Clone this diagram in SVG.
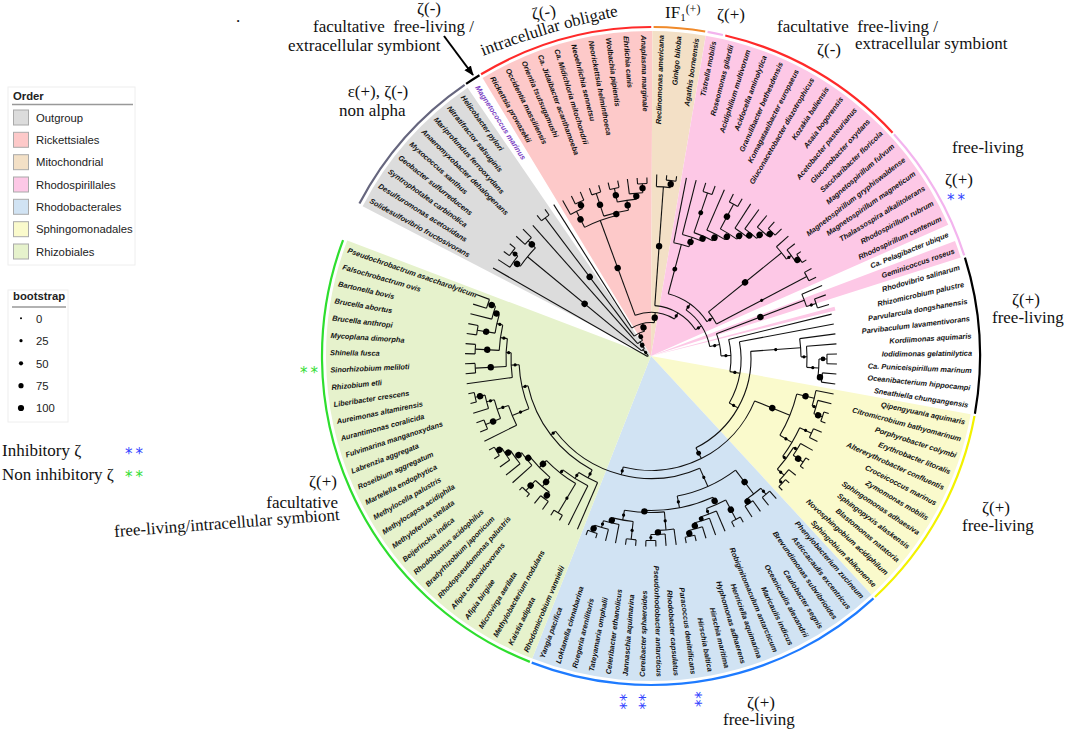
<svg xmlns="http://www.w3.org/2000/svg" width="1065" height="732" viewBox="0 0 1065 732">
<style>
.ann{font-family:"Liberation Serif","Times New Roman",serif;font-size:17px;fill:#111}
.lg{font-family:"Liberation Sans",Arial,sans-serif;font-size:11.3px;fill:#222}
.lgt{font-family:"Liberation Sans",Arial,sans-serif;font-size:11.3px;font-weight:bold;fill:#222}
.tl{font-family:"Liberation Sans",Arial,sans-serif;font-size:7.4px;font-weight:bold;font-style:italic;fill:#111}
.e{text-anchor:end}
.st{font-family:"DejaVu Sans",sans-serif;font-size:15px}
.sw{stroke:#aaa;stroke-width:1}
</style>
<defs>
<marker id="ah" viewBox="0 0 10 10" refX="9" refY="5" markerWidth="5" markerHeight="5" orient="auto"><path d="M0,1 L10,5 L0,9 z" fill="#000"/></marker>
<path id="ip" d="M483,56 Q556,28 624,15"/>
</defs>
<rect width="1065" height="732" fill="#fff"/>

<g id="ranges" transform="translate(651,356)" fill="none" stroke-width="325">
<circle r="162.5" pathLength="360" stroke="#dcdcdc" stroke-dasharray="28.19 999" transform="rotate(207.46)"/>
<circle r="162.5" pathLength="360" stroke="#fdc9c9" stroke-dasharray="31.46 999" transform="rotate(238.79)"/>
<circle r="162.5" pathLength="360" stroke="#f3e0c6" stroke-dasharray="9.45 999" transform="rotate(270.25)"/>
<circle r="162.5" pathLength="360" stroke="#fdc8e6" stroke-dasharray="56.46 999" transform="rotate(279.7)"/>
<circle r="162.5" pathLength="360" stroke="#fdc8e6" stroke-dasharray="3.11 999" transform="rotate(339.29)"/>
<circle r="95" stroke-width="190" pathLength="360" stroke="#fdc8e6" stroke-dasharray="1.2 999" transform="rotate(344.96)"/>
<circle r="162.5" pathLength="360" stroke="#fafacc" stroke-dasharray="36.93 999" transform="rotate(370.34)"/>
<circle r="162.5" pathLength="360" stroke="#d1e3f3" stroke-dasharray="64.15 999" transform="rotate(407.27)"/>
<circle r="162.5" pathLength="360" stroke="#e6f2cc" stroke-dasharray="89.39 999" transform="rotate(471.42)"/>
</g>

<g id="clade-arcs" transform="translate(651,356)" fill="none" stroke-width="2.2">
<circle r="329" pathLength="360" stroke="#66667e" stroke-dasharray="27.9 999" transform="rotate(207.6)"/>
<circle r="329" pathLength="360" stroke="#000" stroke-dasharray="2.8 999" transform="rotate(235.8)"/>
<circle r="329" pathLength="360" stroke="#ff2a2a" stroke-dasharray="31.15 999" transform="rotate(238.9)"/>
<circle r="329" pathLength="360" stroke="#f08a2a" stroke-dasharray="9.05 999" transform="rotate(270.45)"/>
<circle r="329" pathLength="360" stroke="#f3b4ee" stroke-dasharray="2.75 999" transform="rotate(279.9)"/>
<circle r="329" pathLength="360" stroke="#ff2a2a" stroke-dasharray="34.2 999" transform="rotate(283.05)"/>
<circle r="329" pathLength="360" stroke="#f3b4ee" stroke-dasharray="24.6 999" transform="rotate(317.6)"/>
<circle r="329" pathLength="360" stroke="#000" stroke-dasharray="27.5 999" transform="rotate(342.6)"/>
<circle r="329" pathLength="360" stroke="#f2f200" stroke-dasharray="36.6 999" transform="rotate(370.5)"/>
<circle r="329" pathLength="360" stroke="#1e7bff" stroke-dasharray="63.8 999" transform="rotate(407.45)"/>
<circle r="329" pathLength="360" stroke="#2ede2e" stroke-dasharray="89 999" transform="rotate(471.6)"/>
</g>

<g id="connectors" transform="translate(651,358.5)" fill="none" stroke="#111" stroke-width="1.1">
<circle r="4" pathLength="360" stroke-dasharray="18.23 999" transform="rotate(209.8)"/>
<circle r="12" pathLength="360" stroke-dasharray="17.09 999" transform="rotate(219.49)"/>
<circle r="160" pathLength="360" stroke-dasharray="8.53 999" transform="rotate(215.225)"/>
<circle r="168" pathLength="360" stroke-dasharray="4.65 999" transform="rotate(212.9)"/>
<circle r="175" pathLength="360" stroke-dasharray="3.1 999" transform="rotate(216)"/>
<circle r="170" pathLength="360" stroke-dasharray="3.1 999" transform="rotate(222.2)"/>
<circle r="20" pathLength="360" stroke-dasharray="16.36 999" transform="rotate(228.4)"/>
<circle r="28" pathLength="360" stroke-dasharray="23.41 999" transform="rotate(233.05)"/>
<circle r="176" pathLength="360" stroke-dasharray="3.1 999" transform="rotate(231.5)"/>
<circle r="36" pathLength="360" stroke-dasharray="37.52 999" transform="rotate(237.7)"/>
<circle r="46" pathLength="360" stroke-dasharray="50.83 999" transform="rotate(249.81)"/>
<circle r="147" pathLength="360" stroke-dasharray="13.37 999" transform="rotate(243.125)"/>
<circle r="165" pathLength="360" stroke-dasharray="4.65 999" transform="rotate(240.8)"/>
<circle r="172" pathLength="360" stroke-dasharray="3.1 999" transform="rotate(243.9)"/>
<circle r="150" pathLength="360" stroke-dasharray="9.69 999" transform="rotate(251.65)"/>
<circle r="174" pathLength="360" stroke-dasharray="3.1 999" transform="rotate(250.1)"/>
<circle r="160" pathLength="360" stroke-dasharray="6.98 999" transform="rotate(257.85)"/>
<circle r="174" pathLength="360" stroke-dasharray="3.1 999" transform="rotate(256.3)"/>
<circle r="166" pathLength="360" stroke-dasharray="4.65 999" transform="rotate(262.5)"/>
<circle r="175" pathLength="360" stroke-dasharray="3.1 999" transform="rotate(265.6)"/>
<circle r="53" pathLength="360" stroke-dasharray="53.02 999" transform="rotate(274.13)"/>
<circle r="172" pathLength="360" stroke-dasharray="4.65 999" transform="rotate(271.8)"/>
<circle r="179" pathLength="360" stroke-dasharray="3.1 999" transform="rotate(274.9)"/>
<circle r="60" pathLength="360" stroke-dasharray="42.74 999" transform="rotate(305.78)"/>
<circle r="67" pathLength="360" stroke-dasharray="41.71 999" transform="rotate(284.92)"/>
<circle r="118" pathLength="360" stroke-dasharray="7.64 999" transform="rotate(281.1)"/>
<circle r="128" pathLength="360" stroke-dasharray="9.08 999" transform="rotate(284.2)"/>
<circle r="133" pathLength="360" stroke-dasharray="8.86 999" transform="rotate(288.85)"/>
<circle r="175" pathLength="360" stroke-dasharray="3.1 999" transform="rotate(287.3)"/>
<circle r="140" pathLength="360" stroke-dasharray="8.43 999" transform="rotate(293.5)"/>
<circle r="147" pathLength="360" stroke-dasharray="7.56 999" transform="rotate(298.15)"/>
<circle r="175" pathLength="360" stroke-dasharray="3.1 999" transform="rotate(296.6)"/>
<circle r="155" pathLength="360" stroke-dasharray="5.81 999" transform="rotate(302.8)"/>
<circle r="160" pathLength="360" stroke-dasharray="5.43 999" transform="rotate(305.9)"/>
<circle r="169" pathLength="360" stroke-dasharray="4.65 999" transform="rotate(309)"/>
<circle r="175" pathLength="360" stroke-dasharray="3.1 999" transform="rotate(312.1)"/>
<circle r="74" pathLength="360" stroke-dasharray="11.24 999" transform="rotate(321.01)"/>
<circle r="168" pathLength="360" stroke-dasharray="5.43 999" transform="rotate(318.3)"/>
<circle r="174" pathLength="360" stroke-dasharray="4.65 999" transform="rotate(321.4)"/>
<circle r="179" pathLength="360" stroke-dasharray="3.1 999" transform="rotate(324.5)"/>
<circle r="176" pathLength="360" stroke-dasharray="3.1 999" transform="rotate(330.7)"/>
<circle r="70" pathLength="360" stroke-dasharray="18.59 999" transform="rotate(339.23)"/>
<circle r="164" pathLength="360" stroke-dasharray="4.65 999" transform="rotate(336.9)"/>
<circle r="174" pathLength="360" stroke-dasharray="3.1 999" transform="rotate(340)"/>
<circle r="80" pathLength="360" stroke-dasharray="23.24 999" transform="rotate(346.2)"/>
<circle r="90" pathLength="360" stroke-dasharray="40.29 999" transform="rotate(349.3)"/>
<circle r="100" pathLength="360" stroke-dasharray="67.4 999" transform="rotate(355.89)"/>
<circle r="150" pathLength="360" stroke-dasharray="6.98 999" transform="rotate(352.4)"/>
<circle r="156" pathLength="360" stroke-dasharray="7.75 999" transform="rotate(355.5)"/>
<circle r="168" pathLength="360" stroke-dasharray="6.2 999" transform="rotate(360.15)"/>
<circle r="176" pathLength="360" stroke-dasharray="3.1 999" transform="rotate(358.6)"/>
<circle r="172" pathLength="360" stroke-dasharray="3.1 999" transform="rotate(364.8)"/>
<circle r="112" pathLength="360" stroke-dasharray="82.11 999" transform="rotate(382.24)"/>
<circle r="150" pathLength="360" stroke-dasharray="17.05 999" transform="rotate(373.71)"/>
<circle r="168" pathLength="360" stroke-dasharray="5.43 999" transform="rotate(371)"/>
<circle r="172" pathLength="360" stroke-dasharray="4.65 999" transform="rotate(374.1)"/>
<circle r="181" pathLength="360" stroke-dasharray="3.1 999" transform="rotate(377.2)"/>
<circle r="164" pathLength="360" stroke-dasharray="11.63 999" transform="rotate(384.95)"/>
<circle r="177" pathLength="360" stroke-dasharray="3.1 999" transform="rotate(383.4)"/>
<circle r="168" pathLength="360" stroke-dasharray="9.3 999" transform="rotate(391.93)"/>
<circle r="172" pathLength="360" stroke-dasharray="4.65 999" transform="rotate(389.6)"/>
<circle r="184" pathLength="360" stroke-dasharray="3.1 999" transform="rotate(392.7)"/>
<circle r="177" pathLength="360" stroke-dasharray="4.65 999" transform="rotate(398.9)"/>
<circle r="181" pathLength="360" stroke-dasharray="3.1 999" transform="rotate(402)"/>
<circle r="120" pathLength="360" stroke-dasharray="76.63 999" transform="rotate(426.03)"/>
<circle r="140" pathLength="360" stroke-dasharray="26.35 999" transform="rotate(412.85)"/>
<circle r="170" pathLength="360" stroke-dasharray="6.2 999" transform="rotate(409.75)"/>
<circle r="178" pathLength="360" stroke-dasharray="3.1 999" transform="rotate(408.2)"/>
<circle r="175" pathLength="360" stroke-dasharray="3.1 999" transform="rotate(414.4)"/>
<circle r="152" pathLength="360" stroke-dasharray="26.54 999" transform="rotate(425.93)"/>
<circle r="160" pathLength="360" stroke-dasharray="7.56 999" transform="rotate(422.15)"/>
<circle r="182" pathLength="360" stroke-dasharray="3.1 999" transform="rotate(420.6)"/>
<circle r="166" pathLength="360" stroke-dasharray="5.81 999" transform="rotate(426.8)"/>
<circle r="170" pathLength="360" stroke-dasharray="5.43 999" transform="rotate(429.9)"/>
<circle r="176" pathLength="360" stroke-dasharray="4.65 999" transform="rotate(433)"/>
<circle r="182" pathLength="360" stroke-dasharray="3.1 999" transform="rotate(436.1)"/>
<circle r="154" pathLength="360" stroke-dasharray="14.92 999" transform="rotate(445.01)"/>
<circle r="172" pathLength="360" stroke-dasharray="5.43 999" transform="rotate(442.3)"/>
<circle r="176" pathLength="360" stroke-dasharray="4.65 999" transform="rotate(445.4)"/>
<circle r="182" pathLength="360" stroke-dasharray="3.1 999" transform="rotate(448.5)"/>
<circle r="164" pathLength="360" stroke-dasharray="7.36 999" transform="rotate(456.25)"/>
<circle r="182" pathLength="360" stroke-dasharray="3.1 999" transform="rotate(454.7)"/>
<circle r="169" pathLength="360" stroke-dasharray="5.43 999" transform="rotate(460.9)"/>
<circle r="176" pathLength="360" stroke-dasharray="4.65 999" transform="rotate(464)"/>
<circle r="183" pathLength="360" stroke-dasharray="3.1 999" transform="rotate(467.1)"/>
<circle r="126" pathLength="360" stroke-dasharray="49.64 999" transform="rotate(477.84)"/>
<circle r="135" pathLength="360" stroke-dasharray="9.08 999" transform="rotate(473.3)"/>
<circle r="142" pathLength="360" stroke-dasharray="11.96 999" transform="rotate(476.4)"/>
<circle r="146" pathLength="360" stroke-dasharray="14.63 999" transform="rotate(481.05)"/>
<circle r="180" pathLength="360" stroke-dasharray="3.1 999" transform="rotate(479.5)"/>
<circle r="156" pathLength="360" stroke-dasharray="10.66 999" transform="rotate(490.35)"/>
<circle r="168" pathLength="360" stroke-dasharray="6.2 999" transform="rotate(487.25)"/>
<circle r="176" pathLength="360" stroke-dasharray="3.1 999" transform="rotate(485.7)"/>
<circle r="182" pathLength="360" stroke-dasharray="3.1 999" transform="rotate(491.9)"/>
<circle r="160" pathLength="360" stroke-dasharray="5.81 999" transform="rotate(498.1)"/>
<circle r="168" pathLength="360" stroke-dasharray="5.43 999" transform="rotate(501.2)"/>
<circle r="174" pathLength="360" stroke-dasharray="4.65 999" transform="rotate(504.3)"/>
<circle r="180" pathLength="360" stroke-dasharray="3.1 999" transform="rotate(507.4)"/>
<circle r="132" pathLength="360" stroke-dasharray="19.62 999" transform="rotate(517.67)"/>
<circle r="150" pathLength="360" stroke-dasharray="8.14 999" transform="rotate(513.6)"/>
<circle r="162" pathLength="360" stroke-dasharray="6.98 999" transform="rotate(518.25)"/>
<circle r="178" pathLength="360" stroke-dasharray="3.1 999" transform="rotate(516.7)"/>
<circle r="170" pathLength="360" stroke-dasharray="4.65 999" transform="rotate(522.9)"/>
<circle r="180" pathLength="360" stroke-dasharray="3.1 999" transform="rotate(526)"/>
<circle r="140" pathLength="360" stroke-dasharray="10.17 999" transform="rotate(532.2)"/>
<circle r="145" pathLength="360" stroke-dasharray="11.04 999" transform="rotate(536.85)"/>
<circle r="176" pathLength="360" stroke-dasharray="3.1 999" transform="rotate(535.3)"/>
<circle r="152" pathLength="360" stroke-dasharray="9.69 999" transform="rotate(543.05)"/>
<circle r="176" pathLength="360" stroke-dasharray="3.1 999" transform="rotate(541.5)"/>
<circle r="158" pathLength="360" stroke-dasharray="6.98 999" transform="rotate(549.25)"/>
<circle r="176" pathLength="360" stroke-dasharray="3.1 999" transform="rotate(547.7)"/>
<circle r="164" pathLength="360" stroke-dasharray="4.65 999" transform="rotate(553.9)"/>
<circle r="172" pathLength="360" stroke-dasharray="3.1 999" transform="rotate(557)"/>
<line x1="4" x2="12" transform="rotate(228.03)"/>
<line x1="12" x2="160" transform="rotate(219.49)"/>
<line x1="160" x2="168" transform="rotate(215.23)"/>
<line x1="168" x2="175" transform="rotate(217.55)"/>
<line x1="160" x2="170" transform="rotate(223.75)"/>
<line x1="12" x2="20" transform="rotate(236.58)"/>
<line x1="20" x2="28" transform="rotate(244.76)"/>
<line x1="28" x2="176" transform="rotate(233.05)"/>
<line x1="28" x2="36" transform="rotate(256.46)"/>
<line x1="36" x2="46" transform="rotate(275.22)"/>
<line x1="46" x2="147" transform="rotate(249.81)"/>
<line x1="147" x2="165" transform="rotate(243.13)"/>
<line x1="165" x2="172" transform="rotate(245.45)"/>
<line x1="147" x2="150" transform="rotate(256.49)"/>
<line x1="150" x2="174" transform="rotate(251.65)"/>
<line x1="150" x2="160" transform="rotate(261.34)"/>
<line x1="160" x2="174" transform="rotate(257.85)"/>
<line x1="160" x2="166" transform="rotate(264.83)"/>
<line x1="166" x2="175" transform="rotate(267.15)"/>
<line x1="46" x2="53" transform="rotate(300.64)"/>
<line x1="53" x2="172" transform="rotate(274.13)"/>
<line x1="172" x2="179" transform="rotate(276.45)"/>
<line x1="53" x2="60" transform="rotate(327.15)"/>
<line x1="60" x2="67" transform="rotate(305.78)"/>
<line x1="67" x2="118" transform="rotate(284.92)"/>
<line x1="118" x2="128" transform="rotate(288.74)"/>
<line x1="128" x2="133" transform="rotate(293.28)"/>
<line x1="133" x2="175" transform="rotate(288.85)"/>
<line x1="133" x2="140" transform="rotate(297.71)"/>
<line x1="140" x2="147" transform="rotate(301.93)"/>
<line x1="147" x2="175" transform="rotate(298.15)"/>
<line x1="147" x2="155" transform="rotate(305.71)"/>
<line x1="155" x2="160" transform="rotate(308.61)"/>
<line x1="160" x2="169" transform="rotate(311.33)"/>
<line x1="169" x2="175" transform="rotate(313.65)"/>
<line x1="67" x2="74" transform="rotate(326.63)"/>
<line x1="74" x2="168" transform="rotate(321.01)"/>
<line x1="168" x2="174" transform="rotate(323.73)"/>
<line x1="174" x2="179" transform="rotate(326.05)"/>
<line x1="74" x2="176" transform="rotate(332.25)"/>
<line x1="60" x2="70" transform="rotate(348.52)"/>
<line x1="70" x2="164" transform="rotate(339.23)"/>
<line x1="164" x2="174" transform="rotate(341.55)"/>
<line x1="70" x2="80" transform="rotate(357.82)"/>
<line x1="80" x2="90" transform="rotate(369.44)"/>
<line x1="90" x2="100" transform="rotate(389.59)"/>
<line x1="100" x2="150" transform="rotate(355.89)"/>
<line x1="150" x2="156" transform="rotate(359.38)"/>
<line x1="156" x2="168" transform="rotate(363.25)"/>
<line x1="168" x2="176" transform="rotate(360.15)"/>
<line x1="168" x2="172" transform="rotate(366.35)"/>
<line x1="100" x2="112" transform="rotate(423.29)"/>
<line x1="112" x2="150" transform="rotate(382.24)"/>
<line x1="150" x2="168" transform="rotate(373.71)"/>
<line x1="168" x2="172" transform="rotate(376.43)"/>
<line x1="172" x2="181" transform="rotate(378.75)"/>
<line x1="150" x2="164" transform="rotate(390.76)"/>
<line x1="164" x2="177" transform="rotate(384.95)"/>
<line x1="164" x2="168" transform="rotate(396.58)"/>
<line x1="168" x2="172" transform="rotate(391.93)"/>
<line x1="172" x2="184" transform="rotate(394.25)"/>
<line x1="168" x2="177" transform="rotate(401.23)"/>
<line x1="177" x2="181" transform="rotate(403.55)"/>
<line x1="112" x2="120" transform="rotate(464.35)"/>
<line x1="120" x2="140" transform="rotate(426.03)"/>
<line x1="140" x2="170" transform="rotate(412.85)"/>
<line x1="170" x2="178" transform="rotate(409.75)"/>
<line x1="170" x2="175" transform="rotate(415.95)"/>
<line x1="140" x2="152" transform="rotate(439.2)"/>
<line x1="152" x2="160" transform="rotate(425.93)"/>
<line x1="160" x2="182" transform="rotate(422.15)"/>
<line x1="160" x2="166" transform="rotate(429.71)"/>
<line x1="166" x2="170" transform="rotate(432.61)"/>
<line x1="170" x2="176" transform="rotate(435.33)"/>
<line x1="176" x2="182" transform="rotate(437.65)"/>
<line x1="152" x2="154" transform="rotate(452.47)"/>
<line x1="154" x2="172" transform="rotate(445.01)"/>
<line x1="172" x2="176" transform="rotate(447.73)"/>
<line x1="176" x2="182" transform="rotate(450.05)"/>
<line x1="154" x2="164" transform="rotate(459.93)"/>
<line x1="164" x2="182" transform="rotate(456.25)"/>
<line x1="164" x2="169" transform="rotate(463.61)"/>
<line x1="169" x2="176" transform="rotate(466.33)"/>
<line x1="176" x2="183" transform="rotate(468.65)"/>
<line x1="120" x2="126" transform="rotate(502.66)"/>
<line x1="126" x2="135" transform="rotate(477.84)"/>
<line x1="135" x2="142" transform="rotate(482.38)"/>
<line x1="142" x2="146" transform="rotate(488.36)"/>
<line x1="146" x2="180" transform="rotate(481.05)"/>
<line x1="146" x2="156" transform="rotate(495.68)"/>
<line x1="156" x2="168" transform="rotate(490.35)"/>
<line x1="168" x2="176" transform="rotate(487.25)"/>
<line x1="168" x2="182" transform="rotate(493.45)"/>
<line x1="156" x2="160" transform="rotate(501.01)"/>
<line x1="160" x2="168" transform="rotate(503.91)"/>
<line x1="168" x2="174" transform="rotate(506.63)"/>
<line x1="174" x2="180" transform="rotate(508.95)"/>
<line x1="126" x2="132" transform="rotate(527.48)"/>
<line x1="132" x2="150" transform="rotate(517.67)"/>
<line x1="150" x2="162" transform="rotate(521.74)"/>
<line x1="162" x2="178" transform="rotate(518.25)"/>
<line x1="162" x2="170" transform="rotate(525.23)"/>
<line x1="170" x2="180" transform="rotate(527.55)"/>
<line x1="132" x2="140" transform="rotate(537.29)"/>
<line x1="140" x2="145" transform="rotate(542.37)"/>
<line x1="145" x2="176" transform="rotate(536.85)"/>
<line x1="145" x2="152" transform="rotate(547.89)"/>
<line x1="152" x2="176" transform="rotate(543.05)"/>
<line x1="152" x2="158" transform="rotate(552.74)"/>
<line x1="158" x2="176" transform="rotate(549.25)"/>
<line x1="158" x2="164" transform="rotate(556.23)"/>
<line x1="164" x2="172" transform="rotate(558.55)"/>
<line x1="4" x2="182" transform="rotate(209.8)"/>
<line x1="168" x2="182" transform="rotate(212.9)"/>
<line x1="175" x2="182" transform="rotate(216)"/>
<line x1="175" x2="182" transform="rotate(219.1)"/>
<line x1="170" x2="182" transform="rotate(222.2)"/>
<line x1="170" x2="182" transform="rotate(225.3)"/>
<line x1="20" x2="178" transform="rotate(228.4)"/>
<line x1="176" x2="183" transform="rotate(231.5)"/>
<line x1="176" x2="183" transform="rotate(234.6)"/>
<line x1="36" x2="182" transform="rotate(237.7)"/>
<line x1="165" x2="181" transform="rotate(240.8)"/>
<line x1="172" x2="181" transform="rotate(243.9)"/>
<line x1="172" x2="181" transform="rotate(247)"/>
<line x1="174" x2="181" transform="rotate(250.1)"/>
<line x1="174" x2="181" transform="rotate(253.2)"/>
<line x1="174" x2="181" transform="rotate(256.3)"/>
<line x1="174" x2="181" transform="rotate(259.4)"/>
<line x1="166" x2="181" transform="rotate(262.5)"/>
<line x1="175" x2="181" transform="rotate(265.6)"/>
<line x1="175" x2="181" transform="rotate(268.7)"/>
<line x1="172" x2="184" transform="rotate(271.8)"/>
<line x1="179" x2="184" transform="rotate(274.9)"/>
<line x1="179" x2="184" transform="rotate(278)"/>
<line x1="118" x2="184" transform="rotate(281.1)"/>
<line x1="128" x2="184" transform="rotate(284.2)"/>
<line x1="175" x2="184" transform="rotate(287.3)"/>
<line x1="175" x2="184" transform="rotate(290.4)"/>
<line x1="140" x2="184" transform="rotate(293.5)"/>
<line x1="175" x2="184" transform="rotate(296.6)"/>
<line x1="175" x2="184" transform="rotate(299.7)"/>
<line x1="155" x2="184" transform="rotate(302.8)"/>
<line x1="160" x2="184" transform="rotate(305.9)"/>
<line x1="169" x2="184" transform="rotate(309)"/>
<line x1="175" x2="184" transform="rotate(312.1)"/>
<line x1="175" x2="184" transform="rotate(315.2)"/>
<line x1="168" x2="184" transform="rotate(318.3)"/>
<line x1="174" x2="184" transform="rotate(321.4)"/>
<line x1="179" x2="184" transform="rotate(324.5)"/>
<line x1="179" x2="184" transform="rotate(327.6)"/>
<line x1="176" x2="184" transform="rotate(330.7)"/>
<line x1="176" x2="184" transform="rotate(333.8)"/>
<line x1="164" x2="186" transform="rotate(336.9)"/>
<line x1="174" x2="186" transform="rotate(340)"/>
<line x1="174" x2="186" transform="rotate(343.1)"/>
<line x1="80" x2="186" transform="rotate(346.2)"/>
<line x1="90" x2="186" transform="rotate(349.3)"/>
<line x1="150" x2="186" transform="rotate(352.4)"/>
<line x1="156" x2="186" transform="rotate(355.5)"/>
<line x1="176" x2="186" transform="rotate(358.6)"/>
<line x1="176" x2="186" transform="rotate(361.7)"/>
<line x1="172" x2="186" transform="rotate(364.8)"/>
<line x1="172" x2="186" transform="rotate(367.9)"/>
<line x1="168" x2="186" transform="rotate(371)"/>
<line x1="172" x2="186" transform="rotate(374.1)"/>
<line x1="181" x2="186" transform="rotate(377.2)"/>
<line x1="181" x2="186" transform="rotate(380.3)"/>
<line x1="177" x2="186" transform="rotate(383.4)"/>
<line x1="177" x2="186" transform="rotate(386.5)"/>
<line x1="172" x2="186" transform="rotate(389.6)"/>
<line x1="184" x2="188" transform="rotate(392.7)"/>
<line x1="184" x2="188" transform="rotate(395.8)"/>
<line x1="177" x2="186" transform="rotate(398.9)"/>
<line x1="181" x2="186" transform="rotate(402)"/>
<line x1="181" x2="186" transform="rotate(405.1)"/>
<line x1="178" x2="188" transform="rotate(408.2)"/>
<line x1="178" x2="188" transform="rotate(411.3)"/>
<line x1="175" x2="188" transform="rotate(414.4)"/>
<line x1="175" x2="188" transform="rotate(417.5)"/>
<line x1="182" x2="188" transform="rotate(420.6)"/>
<line x1="182" x2="188" transform="rotate(423.7)"/>
<line x1="166" x2="188" transform="rotate(426.8)"/>
<line x1="170" x2="188" transform="rotate(429.9)"/>
<line x1="176" x2="188" transform="rotate(433)"/>
<line x1="182" x2="188" transform="rotate(436.1)"/>
<line x1="182" x2="188" transform="rotate(439.2)"/>
<line x1="172" x2="188" transform="rotate(442.3)"/>
<line x1="176" x2="188" transform="rotate(445.4)"/>
<line x1="182" x2="188" transform="rotate(448.5)"/>
<line x1="182" x2="188" transform="rotate(451.6)"/>
<line x1="182" x2="188" transform="rotate(454.7)"/>
<line x1="182" x2="188" transform="rotate(457.8)"/>
<line x1="169" x2="188" transform="rotate(460.9)"/>
<line x1="176" x2="188" transform="rotate(464)"/>
<line x1="183" x2="188" transform="rotate(467.1)"/>
<line x1="183" x2="188" transform="rotate(470.2)"/>
<line x1="135" x2="186" transform="rotate(473.3)"/>
<line x1="142" x2="186" transform="rotate(476.4)"/>
<line x1="180" x2="186" transform="rotate(479.5)"/>
<line x1="180" x2="186" transform="rotate(482.6)"/>
<line x1="176" x2="186" transform="rotate(485.7)"/>
<line x1="176" x2="186" transform="rotate(488.8)"/>
<line x1="182" x2="186" transform="rotate(491.9)"/>
<line x1="182" x2="186" transform="rotate(495)"/>
<line x1="160" x2="186" transform="rotate(498.1)"/>
<line x1="168" x2="186" transform="rotate(501.2)"/>
<line x1="174" x2="186" transform="rotate(504.3)"/>
<line x1="180" x2="186" transform="rotate(507.4)"/>
<line x1="180" x2="186" transform="rotate(510.5)"/>
<line x1="150" x2="186" transform="rotate(513.6)"/>
<line x1="178" x2="186" transform="rotate(516.7)"/>
<line x1="178" x2="186" transform="rotate(519.8)"/>
<line x1="170" x2="186" transform="rotate(522.9)"/>
<line x1="180" x2="186" transform="rotate(526)"/>
<line x1="180" x2="186" transform="rotate(529.1)"/>
<line x1="140" x2="186" transform="rotate(532.2)"/>
<line x1="176" x2="186" transform="rotate(535.3)"/>
<line x1="176" x2="186" transform="rotate(538.4)"/>
<line x1="176" x2="186" transform="rotate(541.5)"/>
<line x1="176" x2="186" transform="rotate(544.6)"/>
<line x1="176" x2="186" transform="rotate(547.7)"/>
<line x1="176" x2="186" transform="rotate(550.8)"/>
<line x1="164" x2="186" transform="rotate(553.9)"/>
<line x1="172" x2="186" transform="rotate(557)"/>
<line x1="172" x2="186" transform="rotate(560.1)"/>
</g>

<g id="support" transform="translate(651,358.5)" fill="#000">
<circle cx="8" r="1.6" transform="rotate(228.03)"/>
<circle cx="86" r="3.2" transform="rotate(219.49)"/>
<circle cx="164" r="3.2" transform="rotate(215.23)"/>
<circle cx="171.5" r="2.4" transform="rotate(217.55)"/>
<circle cx="165" r="3.2" transform="rotate(223.75)"/>
<circle cx="16" r="2.4" transform="rotate(236.58)"/>
<circle cx="24" r="2.4" transform="rotate(244.76)"/>
<circle cx="102" r="3.2" transform="rotate(233.05)"/>
<circle cx="32" r="3.2" transform="rotate(256.46)"/>
<circle cx="41" r="3.2" transform="rotate(275.22)"/>
<circle cx="96.5" r="3.2" transform="rotate(249.81)"/>
<circle cx="156" r="3.2" transform="rotate(243.13)"/>
<circle cx="168.5" r="3.2" transform="rotate(245.45)"/>
<circle cx="148.5" r="3.2" transform="rotate(256.49)"/>
<circle cx="162" r="3.2" transform="rotate(251.65)"/>
<circle cx="155" r="3.2" transform="rotate(261.34)"/>
<circle cx="167" r="3.2" transform="rotate(257.85)"/>
<circle cx="163" r="3.2" transform="rotate(264.83)"/>
<circle cx="170.5" r="3.2" transform="rotate(267.15)"/>
<circle cx="49.5" r="1.6" transform="rotate(300.64)"/>
<circle cx="112.5" r="3.2" transform="rotate(274.13)"/>
<circle cx="175.5" r="3.2" transform="rotate(276.45)"/>
<circle cx="56.5" r="1.6" transform="rotate(327.15)"/>
<circle cx="63.5" r="1.6" transform="rotate(305.78)"/>
<circle cx="92.5" r="2.4" transform="rotate(284.92)"/>
<circle cx="123" r="3.2" transform="rotate(288.74)"/>
<circle cx="130.5" r="3.2" transform="rotate(293.28)"/>
<circle cx="154" r="2.4" transform="rotate(288.85)"/>
<circle cx="136.5" r="3.2" transform="rotate(297.71)"/>
<circle cx="143.5" r="3.2" transform="rotate(301.93)"/>
<circle cx="161" r="3.2" transform="rotate(298.15)"/>
<circle cx="151" r="3.2" transform="rotate(305.71)"/>
<circle cx="157.5" r="3.2" transform="rotate(308.61)"/>
<circle cx="164.5" r="3.2" transform="rotate(311.33)"/>
<circle cx="172" r="3.2" transform="rotate(313.65)"/>
<circle cx="70.5" r="1.6" transform="rotate(326.63)"/>
<circle cx="121" r="3.2" transform="rotate(321.01)"/>
<circle cx="171" r="1.6" transform="rotate(323.73)"/>
<circle cx="176.5" r="3.2" transform="rotate(326.05)"/>
<circle cx="125" r="1.6" transform="rotate(332.25)"/>
<circle cx="65" r="1.6" transform="rotate(348.52)"/>
<circle cx="117" r="3.2" transform="rotate(339.23)"/>
<circle cx="169" r="1.6" transform="rotate(341.55)"/>
<circle cx="75" r="1.6" transform="rotate(357.82)"/>
<circle cx="85" r="1.6" transform="rotate(369.44)"/>
<circle cx="95" r="1.6" transform="rotate(389.59)"/>
<circle cx="125" r="1.6" transform="rotate(355.89)"/>
<circle cx="153" r="1.6" transform="rotate(359.38)"/>
<circle cx="162" r="1.6" transform="rotate(363.25)"/>
<circle cx="172" r="2.4" transform="rotate(360.15)"/>
<circle cx="170" r="3.2" transform="rotate(366.35)"/>
<circle cx="106" r="2.4" transform="rotate(423.29)"/>
<circle cx="131" r="3.2" transform="rotate(382.24)"/>
<circle cx="159" r="3.2" transform="rotate(373.71)"/>
<circle cx="170" r="1.6" transform="rotate(376.43)"/>
<circle cx="176.5" r="3.2" transform="rotate(378.75)"/>
<circle cx="157" r="1.6" transform="rotate(390.76)"/>
<circle cx="170.5" r="1.6" transform="rotate(384.95)"/>
<circle cx="166" r="1.6" transform="rotate(396.58)"/>
<circle cx="170" r="1.6" transform="rotate(391.93)"/>
<circle cx="178" r="3.2" transform="rotate(394.25)"/>
<circle cx="172.5" r="1.6" transform="rotate(401.23)"/>
<circle cx="179" r="1.6" transform="rotate(403.55)"/>
<circle cx="116" r="1.6" transform="rotate(464.35)"/>
<circle cx="130" r="1.6" transform="rotate(426.03)"/>
<circle cx="155" r="3.2" transform="rotate(412.85)"/>
<circle cx="174" r="1.6" transform="rotate(409.75)"/>
<circle cx="172.5" r="3.2" transform="rotate(415.95)"/>
<circle cx="146" r="1.6" transform="rotate(439.2)"/>
<circle cx="156" r="3.2" transform="rotate(425.93)"/>
<circle cx="171" r="3.2" transform="rotate(422.15)"/>
<circle cx="163" r="1.6" transform="rotate(429.71)"/>
<circle cx="168" r="2.4" transform="rotate(432.61)"/>
<circle cx="173" r="3.2" transform="rotate(435.33)"/>
<circle cx="179" r="3.2" transform="rotate(437.65)"/>
<circle cx="153" r="3.2" transform="rotate(452.47)"/>
<circle cx="163" r="1.6" transform="rotate(445.01)"/>
<circle cx="174" r="3.2" transform="rotate(447.73)"/>
<circle cx="179" r="1.6" transform="rotate(450.05)"/>
<circle cx="159" r="1.6" transform="rotate(459.93)"/>
<circle cx="173" r="1.6" transform="rotate(456.25)"/>
<circle cx="166.5" r="3.2" transform="rotate(463.61)"/>
<circle cx="172.5" r="1.6" transform="rotate(466.33)"/>
<circle cx="179.5" r="3.2" transform="rotate(468.65)"/>
<circle cx="123" r="1.6" transform="rotate(502.66)"/>
<circle cx="130.5" r="1.6" transform="rotate(477.84)"/>
<circle cx="138.5" r="1.6" transform="rotate(482.38)"/>
<circle cx="144" r="1.6" transform="rotate(488.36)"/>
<circle cx="163" r="1.6" transform="rotate(481.05)"/>
<circle cx="151" r="3.2" transform="rotate(495.68)"/>
<circle cx="162" r="3.2" transform="rotate(490.35)"/>
<circle cx="172" r="3.2" transform="rotate(487.25)"/>
<circle cx="175" r="3.2" transform="rotate(493.45)"/>
<circle cx="158" r="3.2" transform="rotate(501.01)"/>
<circle cx="164" r="3.2" transform="rotate(503.91)"/>
<circle cx="171" r="3.2" transform="rotate(506.63)"/>
<circle cx="177" r="3.2" transform="rotate(508.95)"/>
<circle cx="129" r="1.6" transform="rotate(527.48)"/>
<circle cx="141" r="1.6" transform="rotate(517.67)"/>
<circle cx="156" r="1.6" transform="rotate(521.74)"/>
<circle cx="170" r="3.2" transform="rotate(518.25)"/>
<circle cx="166" r="1.6" transform="rotate(525.23)"/>
<circle cx="175" r="3.2" transform="rotate(527.55)"/>
<circle cx="136" r="1.6" transform="rotate(537.29)"/>
<circle cx="142.5" r="1.6" transform="rotate(542.37)"/>
<circle cx="160.5" r="3.2" transform="rotate(536.85)"/>
<circle cx="148.5" r="1.6" transform="rotate(547.89)"/>
<circle cx="164" r="3.2" transform="rotate(543.05)"/>
<circle cx="155" r="1.6" transform="rotate(552.74)"/>
<circle cx="167" r="3.2" transform="rotate(549.25)"/>
<circle cx="161" r="3.2" transform="rotate(556.23)"/>
<circle cx="168" r="3.2" transform="rotate(558.55)"/>
</g>

<g id="taxa" transform="translate(651,356)">
<g id="t0"><text class="tl" transform="rotate(29.02)translate(-321,2.6)">Solidesulfovibrio fructosivorans</text></g>
<g id="t1"><text class="tl" transform="rotate(32.14)translate(-321,2.6)">Desulfuromonas acetoxidans</text></g>
<g id="t2"><text class="tl" transform="rotate(35.27)translate(-321,2.6)">Syntrophotalea carbinolica</text></g>
<g id="t3"><text class="tl" transform="rotate(38.4)translate(-321,2.6)">Geobacter sulfurreducens</text></g>
<g id="t4"><text class="tl" transform="rotate(41.53)translate(-321,2.6)">Myxococcus xanthus</text></g>
<g id="t5"><text class="tl" transform="rotate(44.67)translate(-321,2.6)">Anaeromyxobacter dehalogenans</text></g>
<g id="t6"><text class="tl" transform="rotate(47.8)translate(-321,2.6)">Mariprofundus ferrooxydans</text></g>
<g id="t7"><text class="tl" transform="rotate(50.94)translate(-321,2.6)">Nitratifractor salsuginis</text></g>
<g id="t8"><text class="tl" transform="rotate(54.08)translate(-321,2.6)">Helicobacter pylori</text></g>
<g id="t9"><text class="tl" style="fill:#7b3fc4" transform="rotate(57.22)translate(-321,2.6)">Magnetococcus marinus</text></g>
<g id="t10"><text class="tl" transform="rotate(60.36)translate(-321,2.6)">Rickettsia prowazekii</text></g>
<g id="t11"><text class="tl" transform="rotate(63.5)translate(-321,2.6)">Occidentia massiliensis</text></g>
<g id="t12"><text class="tl" transform="rotate(66.65)translate(-321,2.6)">Orientia tsutsugamushi</text></g>
<g id="t13"><text class="tl" transform="rotate(69.79)translate(-321,2.6)">Ca. Jidaibacter acanthamoeba</text></g>
<g id="t14"><text class="tl" transform="rotate(72.94)translate(-321,2.6)">Ca. Midichloria mitochondrii</text></g>
<g id="t15"><text class="tl" transform="rotate(76.09)translate(-321,2.6)">Neoehrlichia sennetsu</text></g>
<g id="t16"><text class="tl" transform="rotate(79.23)translate(-321,2.6)">Neorickettsia helminthoeca</text></g>
<g id="t17"><text class="tl" transform="rotate(82.38)translate(-321,2.6)">Wolbachia pipientis</text></g>
<g id="t18"><text class="tl" transform="rotate(85.53)translate(-321,2.6)">Ehrlichia canis</text></g>
<g id="t19"><text class="tl" transform="rotate(88.68)translate(-321,2.6)">Anaplasma marginale</text></g>
<g id="t20"><text class="tl e" transform="rotate(271.83)translate(321,2.6)">Reclinomonas americana</text></g>
<g id="t21"><text class="tl e" transform="rotate(274.98)translate(321,2.6)">Ginkgo biloba</text></g>
<g id="t22"><text class="tl e" transform="rotate(278.13)translate(321,2.6)">Agathis borneensis</text></g>
<g id="t23"><text class="tl e" transform="rotate(281.27)translate(321,2.6)">Tistrella mobilis</text></g>
<g id="t24"><text class="tl e" transform="rotate(284.42)translate(321,2.6)">Roseomonas gilardii</text></g>
<g id="t25"><text class="tl e" transform="rotate(287.57)translate(321,2.6)">Acidiphilium multivorum</text></g>
<g id="t26"><text class="tl e" transform="rotate(290.71)translate(321,2.6)">Acidocella aminolytica</text></g>
<g id="t27"><text class="tl e" transform="rotate(293.86)translate(321,2.6)">Granulibacter bethesdensis</text></g>
<g id="t28"><text class="tl e" transform="rotate(297)translate(321,2.6)">Komagataeibacter europaeus</text></g>
<g id="t29"><text class="tl e" transform="rotate(300.15)translate(321,2.6)">Gluconacetobacter diazotrophicus</text></g>
<g id="t30"><text class="tl e" transform="rotate(303.29)translate(321,2.6)">Kozakia baliensis</text></g>
<g id="t31"><text class="tl e" transform="rotate(306.43)translate(321,2.6)">Asaia bogorensis</text></g>
<g id="t32"><text class="tl e" transform="rotate(309.57)translate(321,2.6)">Acetobacter pasteurianus</text></g>
<g id="t33"><text class="tl e" transform="rotate(312.7)translate(321,2.6)">Gluconobacter oxydans</text></g>
<g id="t34"><text class="tl e" transform="rotate(315.84)translate(321,2.6)">Saccharibacter floricola</text></g>
<g id="t35"><text class="tl e" transform="rotate(318.97)translate(321,2.6)">Magnetospirillum fulvum</text></g>
<g id="t36"><text class="tl e" transform="rotate(322.1)translate(321,2.6)">Magnetospirillum gryphiswaldense</text></g>
<g id="t37"><text class="tl e" transform="rotate(325.23)translate(321,2.6)">Magnetospirillum magneticum</text></g>
<g id="t38"><text class="tl e" transform="rotate(328.36)translate(321,2.6)">Thalassospira alkalitolerans</text></g>
<g id="t39"><text class="tl e" transform="rotate(331.48)translate(321,2.6)">Rhodospirillum rubrum</text></g>
<g id="t40"><text class="tl e" transform="rotate(334.61)translate(321,2.6)">Rhodospirillum centenum</text></g>
<g id="t41"><text class="tl e" transform="rotate(337.73)translate(321,2.6)">Ca. Pelagibacter ubique</text></g>
<g id="t42"><text class="tl e" transform="rotate(340.85)translate(321,2.6)">Geminicoccus roseus</text></g>
<g id="t43"><text class="tl e" transform="rotate(343.96)translate(321,2.6)">Rhodovibrio salinarum</text></g>
<g id="t44"><text class="tl e" transform="rotate(347.07)translate(321,2.6)">Rhizomicrobium palustre</text></g>
<g id="t45"><text class="tl e" transform="rotate(350.18)translate(321,2.6)">Parvularcula dongshanensis</text></g>
<g id="t46"><text class="tl e" transform="rotate(353.29)translate(321,2.6)">Parvibaculum lavamentivorans</text></g>
<g id="t47"><text class="tl e" transform="rotate(356.4)translate(321,2.6)">Kordiimonas aquimaris</text></g>
<g id="t48"><text class="tl e" transform="rotate(359.5)translate(321,2.6)">Iodidimonas gelatinilytica</text></g>
<g id="t49"><text class="tl e" transform="rotate(362.6)translate(321,2.6)">Ca. Puniceispirillum marinum</text></g>
<g id="t50"><text class="tl e" transform="rotate(365.7)translate(321,2.6)">Oceanibacterium hippocampi</text></g>
<g id="t51"><text class="tl e" transform="rotate(368.79)translate(321,2.6)">Sneathiella chungangensis</text></g>
<g id="t52"><text class="tl e" transform="rotate(371.88)translate(321,2.6)">Qipengyuania aquimaris</text></g>
<g id="t53"><text class="tl e" transform="rotate(374.97)translate(321,2.6)">Citromicrobium bathyomarinum</text></g>
<g id="t54"><text class="tl e" transform="rotate(378.06)translate(321,2.6)">Porphyrobacter colymbi</text></g>
<g id="t55"><text class="tl e" transform="rotate(381.14)translate(321,2.6)">Erythrobacter litoralis</text></g>
<g id="t56"><text class="tl e" transform="rotate(384.23)translate(321,2.6)">Altererythrobacter confluentis</text></g>
<g id="t57"><text class="tl e" transform="rotate(387.31)translate(321,2.6)">Croceicoccus marinus</text></g>
<g id="t58"><text class="tl e" transform="rotate(390.38)translate(321,2.6)">Zymomonas mobilis</text></g>
<g id="t59"><text class="tl e" transform="rotate(393.46)translate(321,2.6)">Sphingomonas adhaesiva</text></g>
<g id="t60"><text class="tl e" transform="rotate(396.53)translate(321,2.6)">Sphingopyxis alaskensis</text></g>
<g id="t61"><text class="tl e" transform="rotate(399.6)translate(321,2.6)">Blastomonas natatoria</text></g>
<g id="t62"><text class="tl e" transform="rotate(402.67)translate(321,2.6)">Novosphingobium acidiphilum</text></g>
<g id="t63"><text class="tl e" transform="rotate(405.74)translate(321,2.6)">Sphingobium abikonense</text></g>
<g id="t64"><text class="tl e" transform="rotate(408.8)translate(321,2.6)">Phenylobacterium zucineum</text></g>
<g id="t65"><text class="tl e" transform="rotate(411.86)translate(321,2.6)">Asticcacaulis excentricus</text></g>
<g id="t66"><text class="tl e" transform="rotate(414.92)translate(321,2.6)">Brevundimonas subvibrioides</text></g>
<g id="t67"><text class="tl e" transform="rotate(417.98)translate(321,2.6)">Caulobacter segnis</text></g>
<g id="t68"><text class="tl e" transform="rotate(421.04)translate(321,2.6)">Oceanicaulis alexandrii</text></g>
<g id="t69"><text class="tl e" transform="rotate(424.1)translate(321,2.6)">Maricaulis indicus</text></g>
<g id="t70"><text class="tl e" transform="rotate(427.15)translate(321,2.6)">Robiginitomaculum antarcticum</text></g>
<g id="t71"><text class="tl e" transform="rotate(430.21)translate(321,2.6)">Henriciella aquimarina</text></g>
<g id="t72"><text class="tl e" transform="rotate(433.26)translate(321,2.6)">Hyphomonas adhaerens</text></g>
<g id="t73"><text class="tl e" transform="rotate(436.32)translate(321,2.6)">Hirschia maritima</text></g>
<g id="t74"><text class="tl e" transform="rotate(439.37)translate(321,2.6)">Hirschia baltica</text></g>
<g id="t75"><text class="tl e" transform="rotate(442.42)translate(321,2.6)">Paracoccus denitrificans</text></g>
<g id="t76"><text class="tl e" transform="rotate(445.47)translate(321,2.6)">Rhodobacter capsulatus</text></g>
<g id="t77"><text class="tl e" transform="rotate(448.52)translate(321,2.6)">Pseudorhodobacter antarcticus</text></g>
<g id="t78"><text class="tl" transform="rotate(271.57)translate(-321,2.6)">Cereibacter sphaeroides</text></g>
<g id="t79"><text class="tl" transform="rotate(274.63)translate(-321,2.6)">Jannaschia aquimarina</text></g>
<g id="t80"><text class="tl" transform="rotate(277.68)translate(-321,2.6)">Celeribacter ethanolicus</text></g>
<g id="t81"><text class="tl" transform="rotate(280.73)translate(-321,2.6)">Tateyamaria omphalii</text></g>
<g id="t82"><text class="tl" transform="rotate(283.78)translate(-321,2.6)">Ruegeria arenilitoris</text></g>
<g id="t83"><text class="tl" transform="rotate(286.84)translate(-321,2.6)">Loktanella cinnabarina</text></g>
<g id="t84"><text class="tl" transform="rotate(289.89)translate(-321,2.6)">Yangia pacifica</text></g>
<g id="t85"><text class="tl" transform="rotate(292.94)translate(-321,2.6)">Rhodomicrobium vannielii</text></g>
<g id="t86"><text class="tl" transform="rotate(296)translate(-321,2.6)">Kaistia adipata</text></g>
<g id="t87"><text class="tl" transform="rotate(299.06)translate(-321,2.6)">Methylobacterium nodulans</text></g>
<g id="t88"><text class="tl" transform="rotate(302.12)translate(-321,2.6)">Microvirga aerilata</text></g>
<g id="t89"><text class="tl" transform="rotate(305.17)translate(-321,2.6)">Afipia birgiae</text></g>
<g id="t90"><text class="tl" transform="rotate(308.24)translate(-321,2.6)">Afipia carboxidovorans</text></g>
<g id="t91"><text class="tl" transform="rotate(311.3)translate(-321,2.6)">Rhodopseudomonas palustris</text></g>
<g id="t92"><text class="tl" transform="rotate(314.36)translate(-321,2.6)">Bradyrhizobium japonicum</text></g>
<g id="t93"><text class="tl" transform="rotate(317.43)translate(-321,2.6)">Rhodoblastus acidophilus</text></g>
<g id="t94"><text class="tl" transform="rotate(320.5)translate(-321,2.6)">Beijerinckia indica</text></g>
<g id="t95"><text class="tl" transform="rotate(323.57)translate(-321,2.6)">Methyloferula stellata</text></g>
<g id="t96"><text class="tl" transform="rotate(326.64)translate(-321,2.6)">Methylocapsa acidiphila</text></g>
<g id="t97"><text class="tl" transform="rotate(329.72)translate(-321,2.6)">Methylocella palustris</text></g>
<g id="t98"><text class="tl" transform="rotate(332.79)translate(-321,2.6)">Martelella endophytica</text></g>
<g id="t99"><text class="tl" transform="rotate(335.87)translate(-321,2.6)">Roseibium aggregatum</text></g>
<g id="t100"><text class="tl" transform="rotate(338.96)translate(-321,2.6)">Labrenzia aggregata</text></g>
<g id="t101"><text class="tl" transform="rotate(342.04)translate(-321,2.6)">Fulvimarina manganoxydans</text></g>
<g id="t102"><text class="tl" transform="rotate(345.13)translate(-321,2.6)">Aurantimonas coralicida</text></g>
<g id="t103"><text class="tl" transform="rotate(348.22)translate(-321,2.6)">Aureimonas altamirensis</text></g>
<g id="t104"><text class="tl" transform="rotate(351.31)translate(-321,2.6)">Liberibacter crescens</text></g>
<g id="t105"><text class="tl" transform="rotate(354.4)translate(-321,2.6)">Rhizobium etli</text></g>
<g id="t106"><text class="tl" transform="rotate(357.5)translate(-321,2.6)">Sinorhizobium meliloti</text></g>
<g id="t107"><text class="tl" transform="rotate(360.6)translate(-321,2.6)">Shinella fusca</text></g>
<g id="t108"><text class="tl" transform="rotate(363.7)translate(-321,2.6)">Mycoplana dimorpha</text></g>
<g id="t109"><text class="tl" transform="rotate(366.81)translate(-321,2.6)">Brucella anthropi</text></g>
<g id="t110"><text class="tl" transform="rotate(369.92)translate(-321,2.6)">Brucella abortus</text></g>
<g id="t111"><text class="tl" transform="rotate(373.03)translate(-321,2.6)">Bartonella bovis</text></g>
<g id="t112"><text class="tl" transform="rotate(376.14)translate(-321,2.6)">Falsochrobactrum ovis</text></g>
<g id="t113"><text class="tl" transform="rotate(379.25)translate(-321,2.6)">Pseudochrobactrum asaccharolyticum</text></g>
</g>

<g id="annotations">
<text class="ann" x="236" y="22" font-size="12">.</text>
<text class="ann" x="429" y="14" text-anchor="middle">ζ(-)</text>
<text class="ann" x="313" y="32">facultative&#160; free-living /</text>
<text class="ann" x="288" y="51">extracellular symbiont</text>
<line x1="444" y1="36" x2="473" y2="75" stroke="#000" stroke-width="2" marker-end="url(#ah)"/>
<text class="ann" x="544" y="18" text-anchor="middle" transform="rotate(-10,544,14)">ζ(-)</text>
<text class="ann"><textPath href="#ip">intracelullar obligate</textPath></text>
<text class="ann" x="665" y="18">IF<tspan font-size="11" dy="3">1</tspan><tspan font-size="12" dy="-8">(+)</tspan></text>
<text class="ann" x="717" y="20">ζ(+)</text>
<text class="ann" x="777" y="32">facultative&#160; free-living /</text>
<text class="ann" x="855" y="49">extracellular symbiont</text>
<text class="ann" x="817" y="55">ζ(-)</text>
<text class="ann" x="952" y="153">free-living</text>
<text class="ann" x="945" y="185">ζ(+)</text>
<text class="ann" x="1026" y="305" text-anchor="middle">ζ(+)</text>
<text class="ann" x="992" y="323">free-living</text>
<text class="ann" x="996" y="513" text-anchor="middle">ζ(+)</text>
<text class="ann" x="962" y="531">free-living</text>
<text class="ann" x="761" y="708" text-anchor="middle">ζ(+)</text>
<text class="ann" x="723" y="725">free-living</text>
<text class="ann" x="378" y="97" text-anchor="middle">ε(+), ζ(-)</text>
<text class="ann" x="339" y="116">non alpha</text>
<text class="ann" x="337" y="487" text-anchor="end">ζ(+)</text>
<text class="ann" x="338" y="508" text-anchor="end">facultative</text>
<text class="ann" x="340" y="520" text-anchor="end" transform="rotate(-4.3,340,520)">free-living/intracellular symbiont</text>
<text class="ann" x="2" y="456">Inhibitory ζ</text>
<text class="ann" x="2" y="480">Non inhibitory ζ</text>
<text class="st" x="125" y="458.5" fill="#3344ff" letter-spacing="3">**</text>
<text class="st" x="125" y="481.5" fill="#33dd33" letter-spacing="3">**</text>
<text class="st" x="947" y="204.5" fill="#3344ff" letter-spacing="3">**</text>
<text class="st" x="300" y="378" fill="#33dd33" letter-spacing="3">**</text>
<text class="st" fill="#3344ff" letter-spacing="0.8" transform="translate(614.7,693.7) rotate(90)">**</text>
<text class="st" fill="#3344ff" letter-spacing="0.8" transform="translate(633.7,693.7) rotate(90)">**</text>
<text class="st" fill="#3344ff" letter-spacing="0.8" transform="translate(689.7,691.2) rotate(90)">**</text>
</g>

<g id="legend-order">
<rect x="8" y="87" width="127" height="178" fill="#fff" stroke="#eee"/>
<text class="lgt" x="13" y="100">Order</text>
<line x1="12" y1="104.5" x2="133" y2="104.5" stroke="#999" stroke-width="1.5"/>
<rect class="sw" x="13.5" y="110" width="15" height="15" fill="#dcdcdc"/>
<text class="lg" x="36" y="121.5">Outgroup</text>
<rect class="sw" x="13.5" y="132.3" width="15" height="15" fill="#fdc9c9"/>
<text class="lg" x="36" y="143.8">Rickettsiales</text>
<rect class="sw" x="13.5" y="154.7" width="15" height="15" fill="#f3e0c6"/>
<text class="lg" x="36" y="166.2">Mitochondrial</text>
<rect class="sw" x="13.5" y="177" width="15" height="15" fill="#fdc8e6"/>
<text class="lg" x="36" y="188.5">Rhodospirillales</text>
<rect class="sw" x="13.5" y="199.3" width="15" height="15" fill="#d1e3f3"/>
<text class="lg" x="36" y="210.8">Rhodobacterales</text>
<rect class="sw" x="13.5" y="221.7" width="15" height="15" fill="#fafacc"/>
<text class="lg" x="36" y="233.2">Sphingomonadales</text>
<rect class="sw" x="13.5" y="244" width="15" height="15" fill="#e6f2cc"/>
<text class="lg" x="36" y="255.5">Rhizobiales</text>
</g>

<g id="legend-bootstrap">
<rect x="8" y="290" width="60" height="132" fill="#fff" stroke="#eee"/>
<text class="lgt" x="13" y="300">bootstrap</text>
<line x1="12" y1="307" x2="66" y2="307" stroke="#999" stroke-width="1.5"/>
<circle cx="21" cy="318.3" r="1"/><text class="lg" x="36" y="322.5">0</text>
<circle cx="21" cy="340.7" r="1.6"/><text class="lg" x="36" y="345">25</text>
<circle cx="21" cy="363.3" r="2.1"/><text class="lg" x="36" y="367.5">50</text>
<circle cx="21" cy="385.7" r="2.6"/><text class="lg" x="36" y="390">75</text>
<circle cx="21" cy="408" r="3.1"/><text class="lg" x="36" y="412.3">100</text>
</g>
</svg>
